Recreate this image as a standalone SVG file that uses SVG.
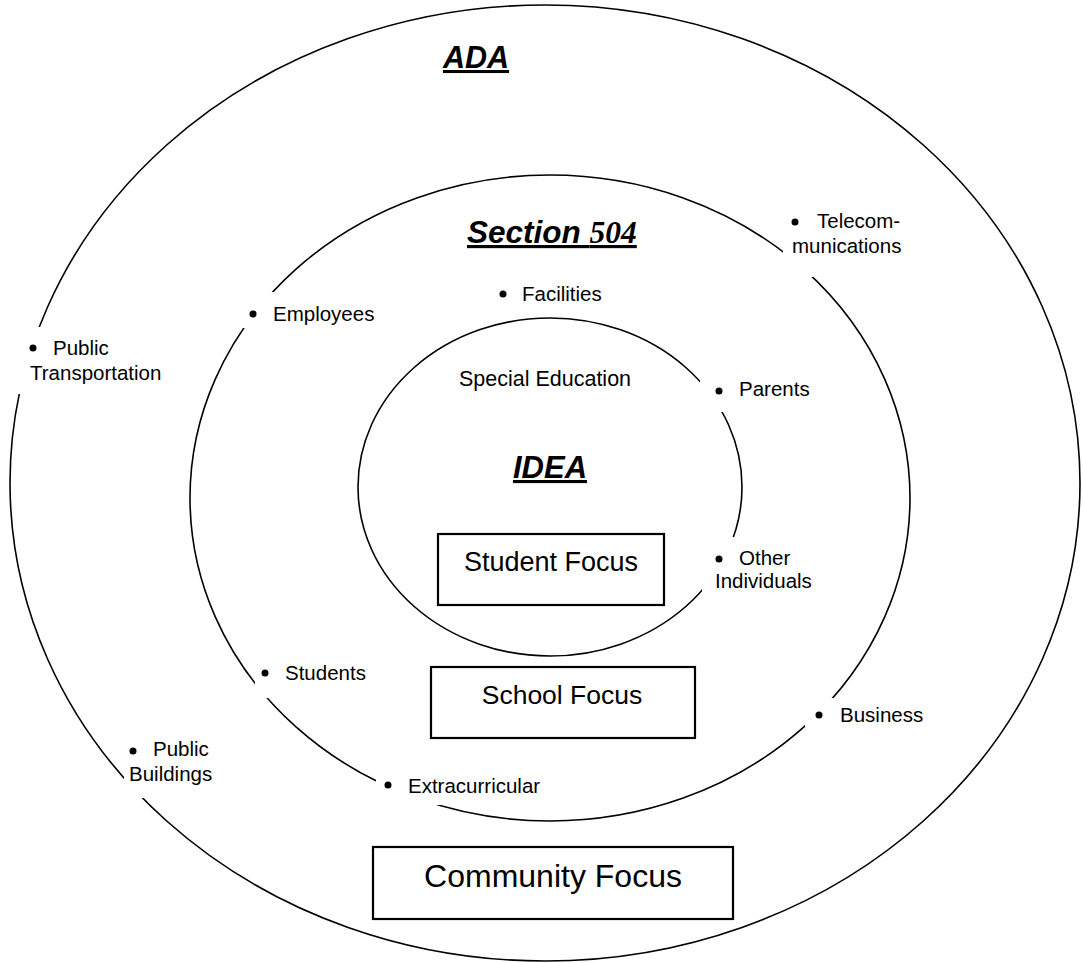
<svg xmlns="http://www.w3.org/2000/svg" width="1083" height="963" viewBox="0 0 1083 963">
<style>
.ring{fill:none;stroke:#000;stroke-width:1.6}
.box{fill:#fff;stroke:#000;stroke-width:2.2}
.bg{fill:#fff;stroke:none}
.t{font-family:"Liberation Sans",Arial,sans-serif;fill:#000}
.lbl{font-size:20.5px}
.title{font-weight:bold;font-style:italic;text-decoration:underline}
.dot{fill:#000}
</style>
<rect width="1083" height="963" fill="#fff"/>
<g id="connectors">
<ellipse id="ring-ada" class="ring" cx="545" cy="483" rx="535" ry="478"/>
<ellipse id="ring-504" class="ring" cx="550" cy="498" rx="360" ry="323"/>
<ellipse id="ring-idea" class="ring" cx="550" cy="487" rx="192" ry="169"/>
</g>
<g id="title-ada"><text class="t title" x="476" y="68" font-size="30.5" text-anchor="middle">ADA</text></g>
<g id="title-504"><text class="t title" x="467" y="243" font-size="31.5">Section <tspan font-family="'Liberation Serif','Times New Roman',serif">504</tspan></text></g>
<g id="title-idea">
<text class="t" x="545" y="386" font-size="21.5" text-anchor="middle">Special Education</text>
<text class="t title" x="550" y="478" font-size="31" text-anchor="middle">IDEA</text>
</g>
<g id="student-focus"><rect class="box" x="438" y="534" width="226" height="71"/><text class="t" x="551" y="571" font-size="27" text-anchor="middle">Student Focus</text></g>
<g id="school-focus"><rect class="box" x="431" y="667" width="264" height="71"/><text class="t" x="562" y="704" font-size="26.5" text-anchor="middle">School Focus</text></g>
<g id="community-focus"><rect class="box" x="373" y="847" width="360" height="72"/><text class="t" x="553" y="887" font-size="32" text-anchor="middle">Community Focus</text></g>
<g id="public-transportation"><rect class="bg" x="14" y="327" width="160" height="67"/><circle class="dot" cx="33" cy="348" r="3.5"/><text class="t lbl" x="53" y="355">Public</text><text class="t lbl" x="30" y="380">Transportation</text></g>
<g id="employees"><rect class="bg" x="232" y="292" width="150" height="36"/><circle class="dot" cx="253" cy="314" r="3.5"/><text class="t lbl" x="273" y="321">Employees</text></g>
<g id="facilities"><circle class="dot" cx="503" cy="294" r="3.5"/><text class="t lbl" x="522" y="301">Facilities</text></g>
<g id="telecommunications"><rect class="bg" x="783" y="207" width="129" height="70"/><circle class="dot" cx="795" cy="222" r="3.5"/><text class="t lbl" x="817" y="228">Telecom-</text><text class="t lbl" x="792" y="253">munications</text></g>
<g id="parents"><rect class="bg" x="700" y="376" width="120" height="36"/><circle class="dot" cx="719" cy="391" r="3.5"/><text class="t lbl" x="739" y="396">Parents</text></g>
<g id="other-individuals"><rect class="bg" x="702" y="537" width="120" height="59"/><circle class="dot" cx="719" cy="559" r="3.5"/><text class="t lbl" x="739" y="565">Other</text><text class="t lbl" x="715" y="588">Individuals</text></g>
<g id="students"><rect class="bg" x="255" y="658" width="120" height="40"/><circle class="dot" cx="265" cy="673" r="3.5"/><text class="t lbl" x="285" y="680">Students</text></g>
<g id="business"><rect class="bg" x="805" y="698" width="125" height="36"/><circle class="dot" cx="819" cy="715" r="3.5"/><text class="t lbl" x="840" y="722">Business</text></g>
<g id="public-buildings"><rect class="bg" x="124" y="735" width="125" height="63"/><circle class="dot" cx="133" cy="751" r="3.5"/><text class="t lbl" x="153" y="756">Public</text><text class="t lbl" x="129" y="781">Buildings</text></g>
<g id="extracurricular"><rect class="bg" x="376" y="768" width="195" height="37"/><circle class="dot" cx="388" cy="785" r="3.5"/><text class="t lbl" x="408" y="793">Extracurricular</text></g>
</svg>
